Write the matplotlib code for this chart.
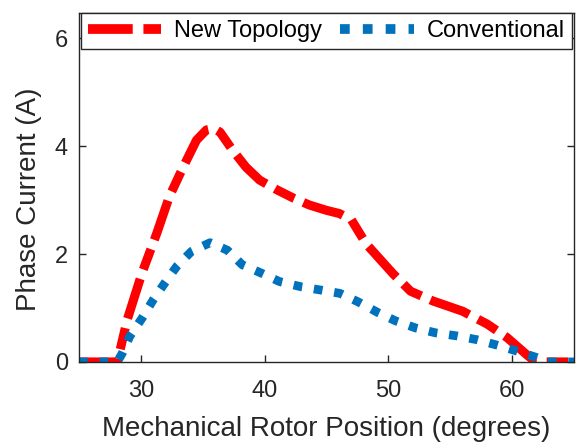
import matplotlib
matplotlib.use("Agg")
import matplotlib.pyplot as plt

plt.rcParams['font.family'] = ['Liberation Sans', 'DejaVu Sans']

# New Topology (red dashed)
new_x = [25, 28.1, 28.9, 30.1, 31.3, 32.3, 33.4, 34.5, 35.3, 35.9, 36.4, 37.4, 38.5, 39.6,
         41.0, 42.3, 43.6, 45.0, 46.05, 47.0, 48.2, 50.4, 51.8, 53.6, 56.0, 58.0, 59.6,
         61.2, 61.9, 65]
new_y = [0, 0, 0.78, 1.65, 2.39, 3.06, 3.60, 4.11, 4.30, 4.33, 4.26, 3.93, 3.61, 3.37,
         3.19, 3.04, 2.91, 2.81, 2.75, 2.64, 2.19, 1.63, 1.31, 1.13, 0.94, 0.70, 0.45,
         0.13, 0.0, 0]

# Conventional (blue dotted)
conv_x = [25, 28.1, 28.5, 29.1, 30.1, 31.0, 31.9, 32.9, 34.1, 35.6, 37.0, 38.2, 39.8,
          41.2, 43.0, 44.6, 46.1, 47.5, 49.2, 50.6, 52.2, 53.8, 55.6, 57.2, 58.8, 60.4,
          62.0, 62.8, 65]
conv_y = [0, 0, 0.16, 0.47, 0.81, 1.15, 1.45, 1.77, 2.05, 2.21, 2.07, 1.80, 1.64,
          1.49, 1.39, 1.33, 1.27, 1.12, 0.91, 0.76, 0.63, 0.54, 0.48, 0.41, 0.31, 0.20,
          0.08, 0.0, 0]

xticks = [30, 40, 50, 60]
yticks = [0, 2, 4, 6]

fig = plt.figure(figsize=(5.76, 4.43), dpi=100)
ax = fig.add_axes([0.137, 0.183, 0.8595, 0.788])

ax.plot(new_x, new_y, color='#FF0000', lw=6.5, linestyle=(0, (4.6, 1.1, 2.4, 1.1)),
        dash_capstyle='butt', label='New Topology')
ax.plot(conv_x, conv_y, color='#0072BD', lw=6.3, linestyle=(0, (1.0, 1.35)),
        dash_capstyle='butt', label='Conventional')

ax.set_xlim(25, 65)
ax.set_ylim(0, 6.47)
ax.set_xticks(xticks)
ax.set_yticks(yticks)
ax.tick_params(direction='in', length=5, width=1, top=True, right=True,
               labelsize=17, colors='#262626')
ax.tick_params(axis='x', pad=13)
ax.tick_params(axis='y', pad=8)
for s in ax.spines.values():
    s.set_color('#262626')
    s.set_linewidth(1)

ax.set_xlabel('Mechanical Rotor Position (degrees)', fontsize=20, color='#262626')
ax.xaxis.set_label_coords(0.5, -0.155)
ax.set_ylabel('Phase Current (A)', fontsize=20, color='#262626', va='center')
ax.yaxis.set_label_coords(-0.10, 0.467)

leg = ax.legend(loc='upper center', bbox_to_anchor=(0.5, 1.0), ncol=2,
                borderaxespad=0, fontsize=17, frameon=True, fancybox=False,
                handlelength=3.1, handletextpad=0.55, columnspacing=0.76,
                borderpad=0.3)
leg.get_frame().set_edgecolor('#262626')
leg.get_frame().set_linewidth(1)
leg.get_frame().set_alpha(1)
for h in leg.get_lines():
    h.set_linewidth(7)

fig.savefig('out.png', dpi=100)
